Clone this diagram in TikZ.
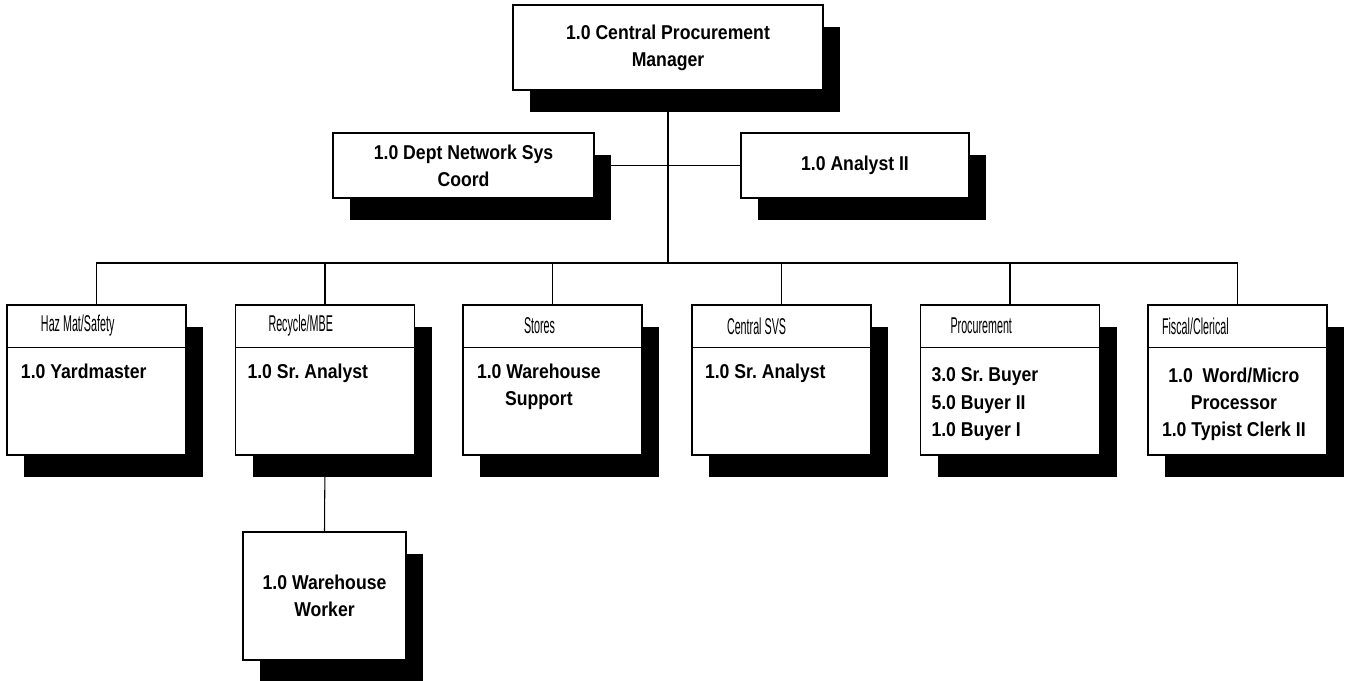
\documentclass[tikz,border=0pt]{standalone}
\usepackage{fontspec}
\setmainfont{Liberation Sans}[FakeStretch=0.88]
\newfontfamily\narrowfont{Liberation Sans}[FakeStretch=0.47]
\usetikzlibrary{shadows}

\begin{document}
\frenchspacing
\fontsize{11.4pt}{15.5pt}\selectfont
\begin{tikzpicture}[x=0.2mm, y=-0.2mm, line width=0.6pt,
  box/.style = {draw, fill=white, inner sep=0pt, align=center, font=\bfseries,
    general shadow={fill=black, shadow xshift=0.34cm, shadow yshift=-0.44cm}},
  unit/.style = {box, minimum width=3.58cm, minimum height=3cm},
  head/.style = {anchor=west, inner sep=0pt, font=\narrowfont\fontsize{13pt}{15pt}\selectfont},
  staff/.style = {anchor=north west, inner sep=0pt, font=\bfseries}
  ]
  \useasboundingbox (0,0) rectangle (1350,681);
  % manager and staff
  \node[box, minimum width=6.2cm, minimum height=1.7cm] (cpm) at (668,47.5)
    {1.0 Central Procurement\\Manager};
  \node[box, minimum width=5.22cm, minimum height=1.3cm] (dept) at (463.5,165.5)
    {1.0 Dept Network Sys\\Coord};
  \node[box, minimum width=4.56cm, minimum height=1.3cm] (an2) at (855,165.5)
    {1.0 Analyst II};
  \coordinate (bus) at (668,263);
  % units
  \node[unit] (haz) at (96.5,380) {};
  \draw (haz.north west) ++(0,43) coordinate (hazl) -- (hazl -| haz.east);
  \node[head] (hazh) at ([xshift=0.68cm, yshift=-0.43cm]haz.north west) {Haz Mat/Safety};
  \node[staff] (hazs) at ([xshift=0.28cm, yshift=-1.18cm]haz.north west) {1.0 Yardmaster};

  \node[unit] (rec) at (325,380) {};
  \draw (rec.north west) ++(0,43) coordinate (recl) -- (recl -| rec.east);
  \node[head] (rech) at ([xshift=0.66cm, yshift=-0.43cm]rec.north west) {Recycle/MBE};
  \node[staff] (recs) at ([xshift=0.24cm, yshift=-1.18cm]rec.north west) {1.0 Sr. Analyst};

  \node[unit] (sto) at (552.5,380) {};
  \draw (sto.north west) ++(0,43) coordinate (stol) -- (stol -| sto.east);
  \node[head] (stoh) at ([xshift=1.22cm, yshift=-0.43cm]sto.north west) {Stores};
  \node[staff, align=center] (stos) at ([xshift=0.28cm, yshift=-1.18cm]sto.north west)
    {1.0 Warehouse\\Support};

  \node[unit] (csv) at (781.5,380) {};
  \draw (csv.north west) ++(0,43) coordinate (csvl) -- (csvl -| csv.east);
  \node[head] (csvh) at ([xshift=0.70cm, yshift=-0.43cm]csv.north west) {Central SVS};
  \node[staff] (csvs) at ([xshift=0.26cm, yshift=-1.18cm]csv.north west) {1.0 Sr. Analyst};

  \node[unit] (pro) at (1010,380) {};
  \draw (pro.north west) ++(0,43) coordinate (prol) -- (prol -| pro.east);
  \node[head] (proh) at ([xshift=0.60cm, yshift=-0.43cm]pro.north west) {Procurement};
  \node[staff, align=left] (pros) at ([xshift=0.22cm, yshift=-1.26cm]pro.north west)
    {3.0 Sr. Buyer\\5.0 Buyer II\\1.0 Buyer I};

  \node[unit] (fis) at (1237.5,380) {};
  \draw (fis.north west) ++(0,43) coordinate (fisl) -- (fisl -| fis.east);
  \node[head] (fish) at ([xshift=0.28cm, yshift=-0.43cm]fis.north west) {Fiscal/Clerical};
  \node[staff, align=center] (fiss) at ([xshift=0.28cm, yshift=-1.26cm]fis.north west)
    {1.0\ \ Word/Micro\\Processor\\1.0 Typist Clerk II};

  \node[box, minimum width=3.26cm, minimum height=2.56cm] (wrk) at (324.5,596)
    {1.0 Warehouse\\Worker};
  % lines
  \draw (cpm.south) -- (bus);
  \draw (dept) -- (an2);
  \draw (haz.north) |- (bus) -| (fis.north);
  \draw (rec.north) -- (rec.north |- bus);
  \draw (sto.north) -- (sto.north |- bus);
  \draw (csv.north) -- (csv.north |- bus);
  \draw (pro.north) -- (pro.north |- bus);
  \draw (rec.south) -- (wrk.north);
\end{tikzpicture}
\end{document}
